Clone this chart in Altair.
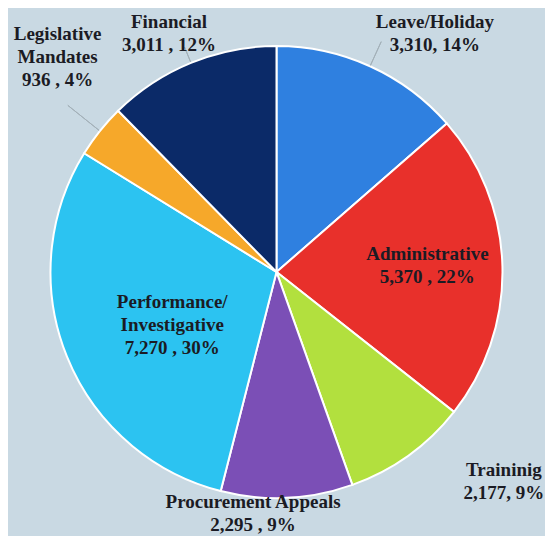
import math
import altair as alt
import pandas as pd

# ---- data ----
categories = ["Leave/Holiday", "Administrative", "Traininig", "Procurement Appeals",
              "Performance/Investigative", "Legislative Mandates", "Financial"]
values = [3310, 5370, 2177, 2295, 7270, 936, 3011]
label_names = ["Leave/Holiday", "Administrative", "Traininig", "Procurement Appeals",
               "Performance/\nInvestigative", "Legislative\nMandates", "Financial"]
separators = [", ", " , ", ", ", " , ", " , ", " , ", " , "]

# ---- styles ----
colors = ["#2f80e0", "#e8302b", "#b2e03e", "#7b4fb6", "#2cc3f1", "#f6a82a", "#0b2a68"]
PIE_R = 226
LINE_H = 23
# label placement: radius (px) and angular nudge (deg) from slice middle
label_radius = [286, 151, 309, 243, 117, 307, 262]
label_nudge = [9.2, -0.9, -11.7, 8.2, -5.0, 5.9, -2.0]
# leader line length outside the pie (px), 0 = none
leader_len = [26, 0, 0, 0, 0, 40, 16]

total = sum(values)
rows = []
cum = 0
for i, (c, v) in enumerate(zip(categories, values)):
    mid = (cum + v / 2) / total
    cum += v
    pct = round(v / total * 100)
    label = f"{label_names[i]}\n{v:,}{separators[i]}{pct}%"
    nlines = label.count("\n") + 1
    ang = 2 * math.pi * mid + math.radians(label_nudge[i])
    # block centre -> first-line anchor (Vega puts the first line at the anchor)
    lx = label_radius[i] * math.sin(ang)
    ly = -label_radius[i] * math.cos(ang) - (nlines - 1) * LINE_H / 2
    rows.append({
        "idx": i,
        "category": c,
        "value": v,
        "label": label,
        "mid": 2 * math.pi * mid,
        "lt": math.atan2(lx, -ly),
        "lr": math.hypot(lx, ly),
        "r1": PIE_R + 1,
        "r2": PIE_R + 1 + leader_len[i],
        "has_leader": leader_len[i] > 0,
    })
df = pd.DataFrame(rows)

base = alt.Chart(df)

arcs = base.mark_arc(outerRadius=PIE_R, stroke="white", strokeWidth=2).encode(
    theta=alt.Theta("value:Q", stack=True),
    order=alt.Order("idx:Q"),
    color=alt.Color("category:N", scale=alt.Scale(domain=categories, range=colors), legend=None),
)

leaders = base.transform_filter("datum.has_leader").mark_arc(
    stroke="#a3b0b8", strokeWidth=1, fillOpacity=0
).encode(
    theta=alt.Theta("mid:Q", scale=None, stack=None),
    theta2="mid:Q",
    radius=alt.Radius("r1:Q", scale=None),
    radius2="r2:Q",
)

labels = base.mark_text(
    font="Liberation Serif", fontWeight="bold", fontSize=19, lineBreak="\n",
    lineHeight=LINE_H, color="#1b1b24", align="center", baseline="middle",
).encode(
    theta=alt.Theta("lt:Q", scale=None, stack=None),
    radius=alt.Radius("lr:Q", scale=None),
    text="label:N",
)

chart = alt.layer(arcs, leaders, labels).resolve_scale(
    theta="independent", radius="independent"
).properties(
    width=537, height=528,
    autosize=alt.AutoSizeParams(type="none"),
    padding=0,
    background="#c9d9e3",
).configure_view(
    strokeWidth=0,
    fill="#c9d9e3",
)

chart.save("out.html", embed_options={"renderer": "svg", "actions": False})
